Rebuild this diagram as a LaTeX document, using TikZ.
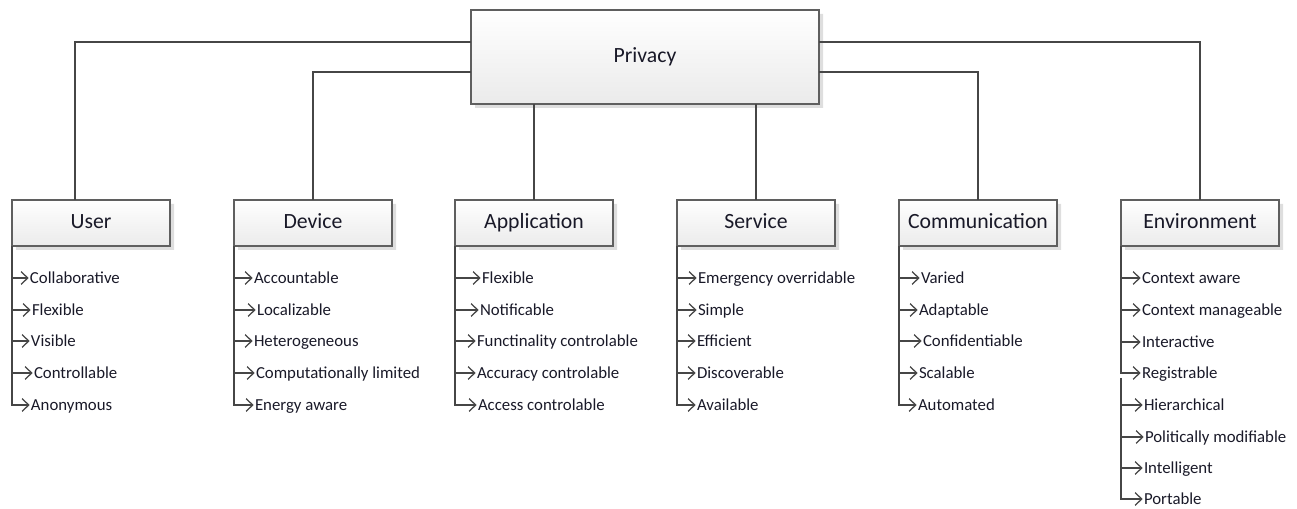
\documentclass[tikz,border=0pt]{standalone}
\usepackage{fontspec}
\setmainfont{Carlito}
\usetikzlibrary{arrows.meta,calc,backgrounds}
\definecolor{ln}{RGB}{70,70,70}
\definecolor{bx}{RGB}{95,95,95}
\definecolor{tx}{RGB}{25,25,40}
\definecolor{shd}{RGB}{222,222,222}
\begin{document}
\begin{tikzpicture}[x=0.75pt,y=-0.75pt,
 box/.style={draw=bx, line width=1.1pt, top color=white, bottom color=black!8, inner sep=0pt, outer sep=0pt, anchor=north west, text=tx, font=\fontsize{16.3}{18}\selectfont, text height=0.76em, text depth=0pt},
 cat/.style={box, minimum width=118.5pt, minimum height=34.5pt},
 itm/.style={anchor=west, inner sep=0pt, outer sep=0pt, text=tx, font=\fontsize{12.6}{15}\selectfont, text height=0.76em, text depth=0pt},
 con/.style={draw=ln, line width=0.95pt},
 arr/.style={con, -{Straight Barb[length=5pt,width=9.5pt,line width=0.95pt]}, shorten >=1pt}
]
\useasboundingbox (0,0) rectangle (1297,509);

% boxes
\node[box, minimum width=261pt, minimum height=70.5pt] (priv) at (471,10) {Privacy};
\node[cat] (user) at (12,200) {User};
\node[cat] (dev) at (234,200) {Device};
\node[cat] (app) at (455,200) {Application};
\node[cat] (serv) at (677,200) {Service};
\node[cat] (comm) at (899,200) {Communication};
\node[cat] (env) at (1121,200) {Environment};

\begin{scope}[on background layer]
\foreach \b in {priv,user,dev,app,serv,comm,env}
  \fill[shd] ($(\b.north east)+(0,4)$) rectangle ($(\b.south east)+(4,4)$)
             ($(\b.south west)+(4,0)$) rectangle ($(\b.south east)+(4,4)$);
\end{scope}

% top connectors
\coordinate (uj) at (75,42);
\draw[con] (uj -| priv.west) -- (uj) -- (uj |- user.north);
\coordinate (dj) at (313,72);
\draw[con] (dj -| priv.west) -- (dj) -- (dev.north);
\draw[con] (app.north |- priv.south) -- (app.north);
\draw[con] (serv.north |- priv.south) -- (serv.north);
\coordinate (cj) at (978,72);
\draw[con] (cj -| priv.east) -- (cj) -- (comm.north);
\coordinate (ej) at (1200,42);
\draw[con] (ej -| priv.east) -- (ej) -- (env.north);

% User
\node[itm] (u1) at (30,278) {Collaborative};
\node[itm] (u2) at (32,310) {Flexible};
\node[itm] (u3) at (31,341) {Visible};
\node[itm] (u4) at (34,373) {Controllable};
\node[itm] (u5) at (31,405) {Anonymous};
% Device
\node[itm] (d1) at (254,278) {Accountable};
\node[itm] (d2) at (257,310) {Localizable};
\node[itm] (d3) at (254,341) {Heterogeneous};
\node[itm] (d4) at (256,373) {Computationally limited};
\node[itm] (d5) at (255,405) {Energy aware};
% Application
\node[itm] (a1) at (482,278) {Flexible};
\node[itm] (a2) at (480,310) {Notificable};
\node[itm] (a3) at (477,341) {Functinality controlable};
\node[itm] (a4) at (477,373) {Accuracy controlable};
\node[itm] (a5) at (478,405) {Access controlable};
% Service
\node[itm] (s1) at (698,278) {Emergency overridable};
\node[itm] (s2) at (698,310) {Simple};
\node[itm] (s3) at (697,341) {Efficient};
\node[itm] (s4) at (697,373) {Discoverable};
\node[itm] (s5) at (697,405) {Available};
% Communication
\node[itm] (c1) at (921,278) {Varied};
\node[itm] (c2) at (919,310) {Adaptable};
\node[itm] (c3) at (923,341) {Confidentiable};
\node[itm] (c4) at (919,373) {Scalable};
\node[itm] (c5) at (918,405) {Automated};
% Environment
\node[itm] (e1) at (1142,278) {Context aware};
\node[itm] (e2) at (1142,310) {Context manageable};
\node[itm] (e3) at (1142,342) {Interactive};
\node[itm] (e4) at (1142,373) {Registrable};
\node[itm] (e5) at (1144,405) {Hierarchical};
\node[itm] (e6) at (1145,437) {Politically modifiable};
\node[itm] (e7) at (1144,468) {Intelligent};
\node[itm] (e8) at (1144,499) {Portable};

% list connectors
\foreach \b/\p in {user/u,dev/d,app/a,serv/s,comm/c}{
  \draw[arr] (\b.south west) |- (\p5.west);
  \foreach \i in {1,...,4}
    \draw[arr] (\b.south west |- \p\i.west) -- (\p\i.west);
}
\draw[arr] (env.south west) |- (e4.west);
\coordinate (eb) at ($(env.south west |- e4.west)+(0,5)$);
\draw[arr] (eb) |- (e8.west);
\foreach \i in {1,2,3,5,6,7}
  \draw[arr] (env.south west |- e\i.west) -- (e\i.west);
\end{tikzpicture}
\end{document}
